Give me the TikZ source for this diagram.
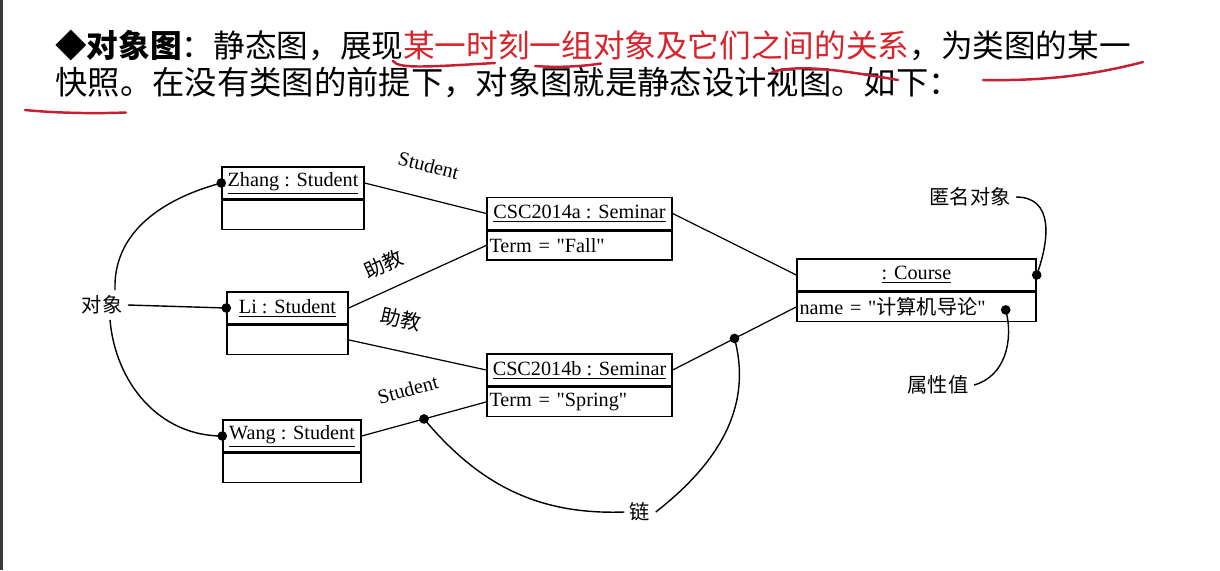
\documentclass[tikz,border=0pt]{standalone}
\usepackage{fontspec}
\setmainfont{Liberation Serif}[Ligatures=TeXOff]
\newfontfamily\cjk{Noto Sans CJK SC}
\usepackage{xcolor}
\usetikzlibrary{positioning}
\definecolor{notered}{HTML}{D9232B}
\definecolor{penred}{HTML}{C81E32}
\definecolor{edgegray}{HTML}{3A3A3A}
\newcommand{\objfont}{\fontsize{11.5}{13}\selectfont}
\newcommand{\hdfont}{\cjk\fontsize{18}{22}\selectfont}

\tikzset{
  objhead/.style={draw, line width=0.8pt, minimum width=#1, minimum height=0.64cm, inner sep=0pt, font=\objfont},
  objattr/.style={draw, line width=0.8pt, text width=#1, minimum height=0.58cm, inner xsep=0.05cm, inner ysep=0pt, align=left, font=\objfont},
  link/.style={line width=0.7pt},
  role/.style={sloped, above=#1, inner sep=0pt, font=\objfont},
  callout/.style={font=\cjk\objfont, inner sep=3pt},
  lead/.style={line width=0.8pt},
  dot/.style={circle, fill, inner sep=0pt, minimum size=5.5pt},
  pen/.style={penred, line width=1.4pt, line cap=round},
}

\begin{document}
\begin{tikzpicture}
        \useasboundingbox (0,0) rectangle (24.4,-11.4);
        \fill[white] (0,0) rectangle (24.4,-11.4);
        \fill[edgegray] (0,0) rectangle (0.06,-11.4);

        % heading
        \node[anchor=west, inner sep=0pt, font=\hdfont] (ln1) at (1.10,-0.90)
          {{\bfseries ◆对象图}：静态图，展现\textcolor{notered}{某一时刻一组对象及它们之间的关系}，为类图的某一};
        \node[anchor=west, inner sep=0pt, font=\hdfont\fontsize{18.4}{22}\selectfont] (ln2) at (1.10,-1.66)
          {快照。在没有类图的前提下，对象图就是静态设计视图。如下：};

        % pen marks
        \draw[pen] (7.86,-1.22) .. controls (7.98,-1.38) and (8.50,-1.34) .. (9.90,-1.26);
        \draw[pen] (10.70,-1.32) .. controls (11.20,-1.36) and (11.70,-1.32) .. (12.02,-1.27);
        \draw[pen] (15.44,-1.44) .. controls (16.00,-1.28) and (16.80,-1.40) .. (17.96,-1.60);
        \draw[pen] (19.66,-1.60) .. controls (20.80,-1.62) and (21.80,-1.52) .. (22.86,-1.24);
        \draw[pen] (0.50,-2.20) .. controls (1.20,-2.27) and (2.00,-2.27) .. (2.52,-2.25);

        % objects
        \node[objhead=2.84cm] (zhang) at (5.86,-3.66) {\underline{Zhang : Student}};
        \node[objattr=2.74cm, below=0pt of zhang] (zhangA) {};
        \node[objhead=2.42cm] (li) at (5.75,-6.16) {\underline{Li : Student}};
        \node[objattr=2.32cm, below=0pt of li] (liA) {};
        \node[objhead=2.76cm] (wang) at (5.84,-8.72) {\underline{Wang : Student}};
        \node[objattr=2.66cm, below=0pt of wang] (wangA) {};
        \node[objhead=3.70cm] (csca) at (11.59,-4.27) {\underline{CSC2014a : Seminar}};
        \node[objattr=3.60cm, below=0pt of csca] (cscaA) {Term = "Fall"};
        \node[objhead=3.70cm] (cscb) at (11.59,-7.40) {\underline{CSC2014b : Seminar}};
        \node[objattr=3.60cm, below=0pt of cscb] (cscbA) {Term = "Spring"};
        \node[objhead=4.78cm] (course) at (18.33,-5.50) {\underline{: Course}};
        \node[objattr=4.68cm, below=0pt of course] (courseA) {name = "{\cjk 计算机导论}"};

        % links
        \draw[link] (zhang.east) -- node[role=0.5cm, pos=.46] {Student} (csca.west);
        \draw[link] (li.east) -- node[role=0.3cm, pos=.33] {\cjk 助教} (cscaA.west);
        \draw[link] (liA.east) -- node[role=0.43cm, pos=.33] {\cjk 助教} (cscb.west);
        \draw[link] (wang.east) -- node[role=0.5cm, pos=.44] {Student} coordinate[pos=.5] (lkA) (cscbA.west);
        \draw[link] (csca.east) -- (course.west);
        \draw[link] (cscb.east) -- coordinate[pos=.5] (lkB) (courseA.west);

        % callouts
        \node[callout] (dx) at (2.04,-6.10) {对象};
        \draw[lead] ([xshift=0.26cm]dx.north) to[out=92, in=195] (zhang.west);
        \draw[lead] (dx.east) -- (li.west);
        \draw[lead] ([xshift=0.16cm]dx.south) to[out=-85, in=180] (wang.west);
        \node[dot] (zdot) at (zhang.west) {};
        \node[dot] (ldot) at (li.west) {};
        \node[dot] (wdot) at (wang.west) {};

        \node[callout] (nm) at (19.40,-3.94) {匿名对象};
        \draw[lead] (nm.east) to[out=0, in=70, looseness=1.2] (course.east);
        \node[dot] (cdot) at (course.east) {};

        \coordinate (valpt) at ([xshift=-0.62cm, yshift=-0.06cm]courseA.east);
        \node[callout] (sx) at (18.76,-7.70) {属性值};
        \draw[lead] (sx.east) to[out=15, in=-75] (valpt);
        \node[dot] (vdot) at (valpt) {};

        \node[callout] (lian) at (12.80,-10.24) {链};
        \draw[lead] (lkA) to[out=-50, in=182] (lian.west);
        \draw[lead] (lian.east) to[out=38, in=-75] (lkB);
        \node[dot] (adot) at (lkA) {};
        \node[dot] (bdot) at (lkB) {};
      \end{tikzpicture}
\end{document}
